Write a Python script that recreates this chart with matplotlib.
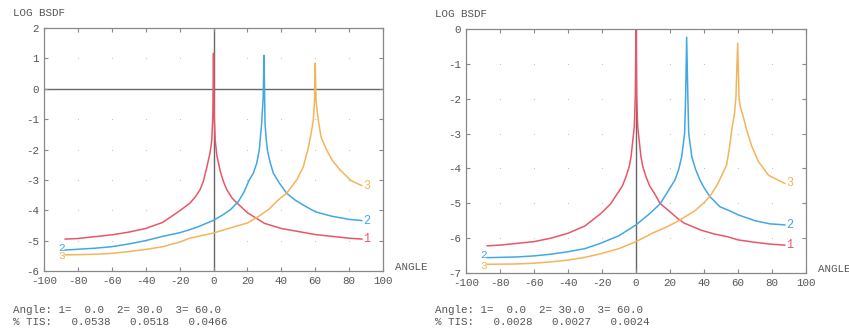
import matplotlib
matplotlib.use("Agg")
import matplotlib.pyplot as plt

# ---- data (angle in deg, log10 BSDF) ----
# left panel (TIS ~ 0.05 %)
l1_x = [-87.5, -80, -70, -60, -50, -40, -30, -20, -14, -11, -8, -6, -4, -2, -1, -0.4, 0,
        0.4, 1, 2, 4, 6, 8, 11, 14, 20, 30, 40, 50, 60, 70, 80, 87.5]
l1_y = [-4.95, -4.93, -4.87, -4.81, -4.72, -4.6, -4.4, -4.02, -3.77, -3.58, -3.33, -3.05, -2.6,
        -2.1, -1.69, -0.9, 1.17, -0.9, -1.69, -2.2, -2.72, -3.08, -3.34, -3.6, -3.77, -4.08,
        -4.43, -4.6, -4.7, -4.8, -4.86, -4.92, -4.95]
l2_x = [-87.5, -70, -60, -50, -40, -30, -20, -14, -8, 0, 5, 10, 14.6, 18, 21.1, 23.5, 25.5,
        27, 28.4, 29.3, 29.8, 30.4, 31, 31.8, 33.3, 35.3, 38.8, 43.2, 48, 53, 60, 70, 80, 87.5]
l2_y = [-5.31, -5.25, -5.2, -5.11, -5.0, -4.86, -4.74, -4.64, -4.52, -4.33, -4.17, -3.98,
        -3.72, -3.4, -3.0, -2.78, -2.45, -2.02, -1.14, -0.3, 1.1, -1.14, -1.6, -2.02, -2.4,
        -2.78, -3.1, -3.44, -3.66, -3.83, -4.05, -4.2, -4.3, -4.34]
l3_x = [-87.5, -70, -60, -50, -40, -30, -20, -14, 0, 10, 20, 26.4, 33, 38.2, 43.2, 49.1, 53,
        55.9, 57.5, 58.9, 59.6, 60, 60.5, 61.8, 63.5, 66.8, 70, 74.6, 81, 87.5]
l3_y = [-5.47, -5.45, -5.42, -5.36, -5.29, -5.2, -5.05, -4.92, -4.75, -4.58, -4.42, -4.21,
        -3.95, -3.66, -3.44, -3.0, -2.57, -1.95, -1.5, -1.03, -0.4, 0.84, -0.4, -1.03, -1.6,
        -2.02, -2.35, -2.67, -3.02, -3.19]

# right panel (TIS ~ 0.003 %)
r1_x = [-87.5, -80, -70, -60, -50, -40, -30, -20.6, -15, -10.8, -8, -5.9, -4, -2.9, -1,
        -0.4, 0, 0.4, 1, 2.9, 4, 5.9, 8, 10.8, 14.1, 18.7, 24.9, 28.4, 38.2, 46, 53.9, 60,
        70, 78.8, 87.5]
r1_y = [-6.22, -6.2, -6.15, -6.1, -6.0, -5.86, -5.65, -5.29, -5.02, -4.71, -4.5, -4.24,
        -3.95, -3.66, -2.8, -1.9, 0.0, -1.9, -2.8, -3.66, -3.95, -4.24, -4.5, -4.71, -5.0,
        -5.19, -5.45, -5.57, -5.77, -5.88, -5.96, -6.05, -6.12, -6.17, -6.2]
r2_x = [-87.5, -70, -60, -50, -40, -30, -21, -10, 0, 8, 14.1, 18, 22.9, 25, 26.9, 28.6,
        29.2, 29.8, 30.5, 31, 32.8, 35, 37.6, 40, 43.5, 49.4, 55.3, 60, 70, 78.8, 87.5]
r2_y = [-6.56, -6.54, -6.51, -6.46, -6.39, -6.3, -6.15, -5.93, -5.62, -5.3, -5.02, -4.72,
        -4.33, -4.05, -3.66, -2.99, -1.94, -0.24, -1.94, -2.99, -3.66, -4.02, -4.33, -4.55,
        -4.81, -5.1, -5.22, -5.33, -5.5, -5.59, -5.62]
r3_x = [-87.5, -70, -60, -50, -40, -30, -21, -10, 0, 10, 18, 25.9, 35, 40, 43.5, 48, 50.4,
        53.3, 55, 56.3, 58, 58.8, 59.8, 60.6, 61.2, 63, 65.1, 68, 72, 78, 87.5]
r3_y = [-6.75, -6.74, -6.72, -6.68, -6.63, -6.55, -6.45, -6.3, -6.1, -5.85, -5.68, -5.48,
        -5.2, -4.98, -4.8, -4.45, -4.2, -3.9, -3.4, -2.9, -2.4, -1.94, -0.41, -1.94, -2.2,
        -2.5, -2.9, -3.35, -3.8, -4.2, -4.43]

angles = [0.0, 30.0, 60.0]
tis_left = [0.0538, 0.0518, 0.0466]
tis_right = [0.0028, 0.0027, 0.0024]

colors = ["#e9566a", "#41a8e4", "#f4b45a"]
txt = "#555555"

plt.rcParams["font.family"] = ["Liberation Mono", "DejaVu Sans Mono"]
plt.rcParams["axes.unicode_minus"] = False

fig = plt.figure(figsize=(8.49, 3.35), dpi=100)


def panel(rect, curves, ylim, zero_line, tis):
    ax = fig.add_axes(rect)
    ax.set_xlim(-100, 100)
    ax.set_ylim(*ylim)
    xt = list(range(-100, 101, 20))
    yt = list(range(ylim[0], ylim[1] + 1))
    ax.set_xticks(xt)
    ax.set_yticks(yt)
    ax.tick_params(direction="in", length=3, width=0.8, color="#888888",
                   top=True, right=True, labelsize=7.8, labelcolor=txt, pad=3.5)
    for s in ax.spines.values():
        s.set_color("#888888")
        s.set_linewidth(0.9)
    # dotted grid at tick crossings
    gx = [x for x in xt[1:-1] for _ in yt[1:-1]]
    gy = [y for _ in xt[1:-1] for y in yt[1:-1]]
    ax.scatter(gx, gy, s=0.6, color="#bbbbbb", zorder=0, linewidths=0)
    ax.axvline(0, color="#666666", lw=1.0, zorder=1)
    if zero_line:
        ax.axhline(0, color="#666666", lw=1.0, zorder=1)
    for i, (xs, ys) in enumerate(curves):
        ax.plot(xs, ys, color=colors[i], lw=1.1, zorder=2)
        ax.text(xs[-1] + 1, ys[-1], str(i + 1), color=colors[i], fontsize=8.5,
                ha="left", va="center")
        if i > 0:
            dy = 0.08 if i == 1 else -0.04
            ax.text(xs[0] - 0.3, ys[0] + dy, str(i + 1), color=colors[i], fontsize=8,
                    ha="right", va="center")
    ax.text(-0.091, 1.062, "LOG BSDF", transform=ax.transAxes, fontsize=7.8,
            color=txt, ha="left", va="center")
    ax.text(1.035, 0.016, "ANGLE", transform=ax.transAxes, fontsize=7.8,
            color=txt, ha="left", va="center")
    x0 = rect[0] - 31 / 849
    line1 = "Angle: 1=%5.1f  2=%5.1f  3=%5.1f" % tuple(angles)
    line2 = "%% TIS:   %.4f   %.4f   %.4f" % tuple(tis)
    fig.text(x0, 1 - 310 / 335, line1, fontsize=7.8, color=txt, va="center")
    fig.text(x0, 1 - 322 / 335, line2, fontsize=7.8, color=txt, va="center")
    return ax


panel([44 / 849, 1 - 271 / 335, 339 / 849, 243 / 335],
      [(l1_x, l1_y), (l2_x, l2_y), (l3_x, l3_y)], (-6, 2), True, tis_left)
panel([466 / 849, 1 - 273 / 335, 340 / 849, 244 / 335],
      [(r1_x, r1_y), (r2_x, r2_y), (r3_x, r3_y)], (-7, 0), False, tis_right)

fig.savefig("out.png", dpi=100)
